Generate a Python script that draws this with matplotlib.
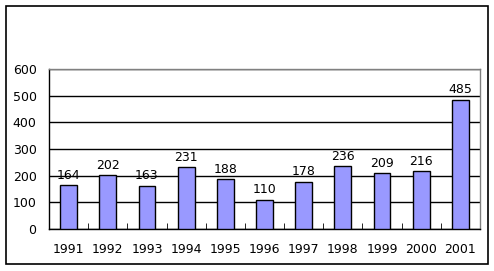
import matplotlib
matplotlib.use('Agg')
import matplotlib.pyplot as plt
from matplotlib.patches import Rectangle

years = ["1991", "1992", "1993", "1994", "1995", "1996", "1997", "1998", "1999", "2000", "2001"]
values = [164, 202, 163, 231, 188, 110, 178, 236, 209, 216, 485]
yticks = [0, 100, 200, 300, 400, 500, 600]

W, H = 494, 271
fig = plt.figure(figsize=(W / 100, H / 100), dpi=100)

# outer frame
fig.patches.append(Rectangle((6 / W, 1 - 264 / H), (488 - 6) / W, (264 - 6) / H,
                             transform=fig.transFigure, fill=False,
                             edgecolor='black', linewidth=1.2))

# plot area
left, top, right, bottom = 49, 69, 480, 229
ax = fig.add_axes([left / W, 1 - bottom / H, (right - left) / W, (bottom - top) / H])

x = list(range(len(years)))
ax.bar(x, values, width=0.43, color='#9999ff', edgecolor='black', linewidth=1, zorder=3)

for i, v in enumerate(values):
    ax.text(i, v + 12, str(v), ha='center', va='bottom', fontsize=9, zorder=4)

ax.set_xlim(-0.5, len(years) - 0.5)
ax.set_ylim(0, 600)
ax.set_yticks(yticks)
ax.set_yticklabels([str(t) for t in yticks], fontsize=9)
ax.yaxis.grid(True, color='black', linewidth=1)
ax.set_axisbelow(True)
ax.tick_params(axis='y', length=0, pad=9)

# category labels, ticks between categories
ax.set_xticks(x)
ax.set_xticklabels(years, fontsize=9)
ax.tick_params(axis='x', length=0, pad=10)
ax.set_xticks([i + 0.5 for i in x[:-1]], minor=True)
ax.tick_params(axis='x', which='minor', direction='in', length=4, color='black')

ax.spines['top'].set_color('#808080')
ax.spines['right'].set_color('#808080')
ax.spines['left'].set_color('black')
ax.spines['bottom'].set_color('black')
for s in ax.spines.values():
    s.set_linewidth(1)

fig.savefig('out.png', dpi=100)
